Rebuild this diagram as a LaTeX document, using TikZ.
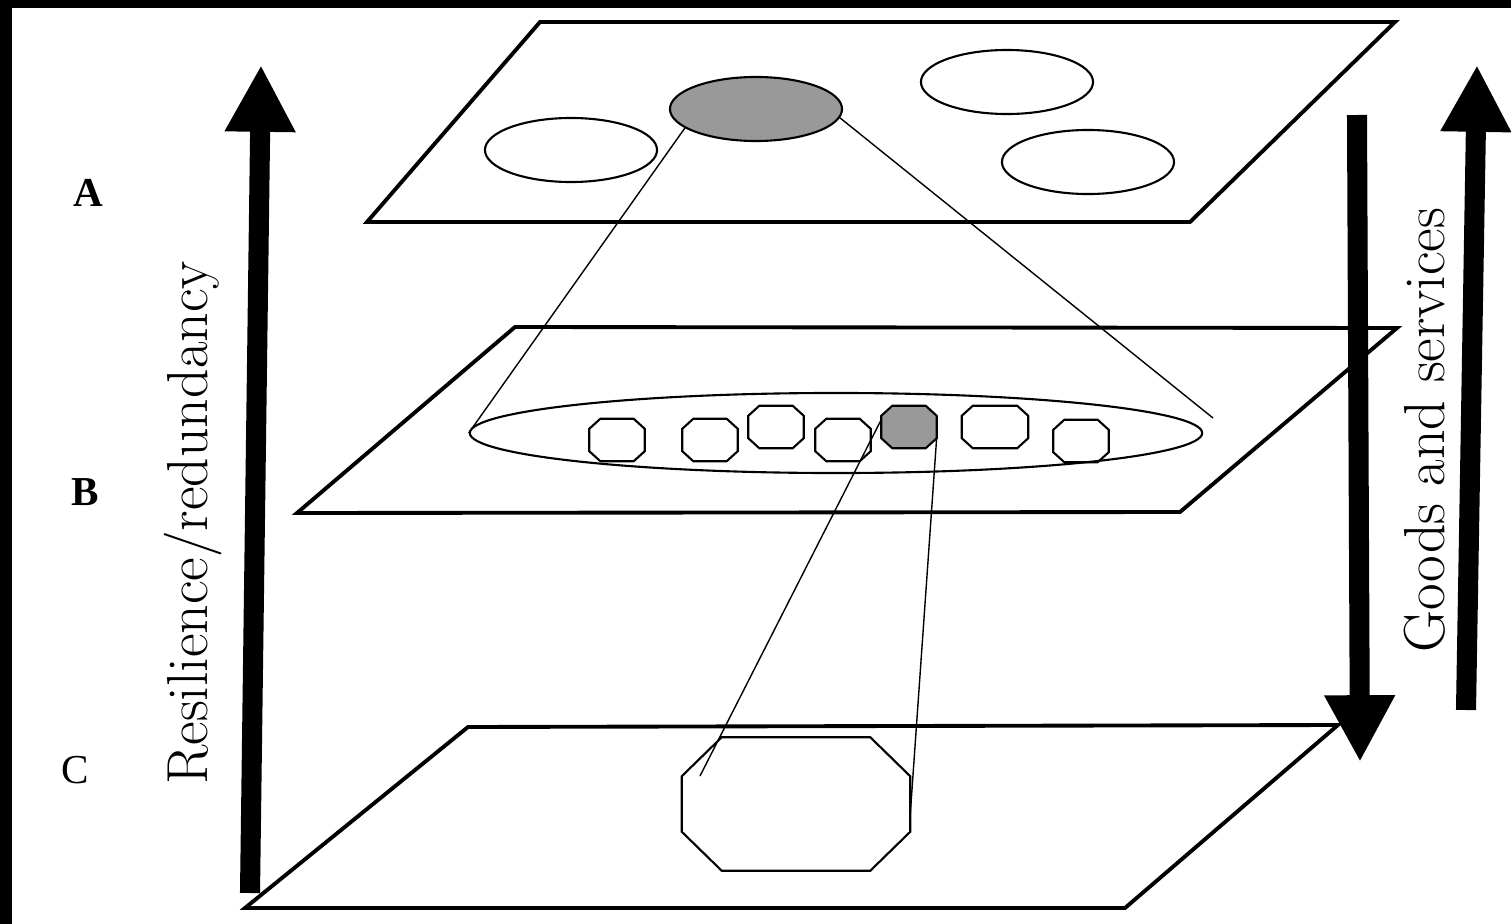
\documentclass[tikz,border=0pt]{standalone}
\usepackage{fontspec}
\setmainfont{Liberation Serif}
\newfontfamily\timesfont{Liberation Serif}
\newcommand{\lmfont}{\fontfamily{lmr}\selectfont}
\usepackage{xcolor}
\usetikzlibrary{shapes.geometric,arrows.meta,positioning,calc}

\definecolor{patchgray}{gray}{0.6}

% octagon drawn over a named box: node, chamfer x, chamfer y, fill
\newcommand{\octcell}[4][none]{%
  \draw[line width=0.6pt, fill=#1] ($(#2.north west)+(#3,0)$) -- ($(#2.north east)+(-#3,0)$)
    -- ($(#2.north east)+(0,#4)$) -- ($(#2.south east)+(0,-#4)$)
    -- ($(#2.south east)+(-#3,0)$) -- ($(#2.south west)+(#3,0)$)
    -- ($(#2.south west)+(0,-#4)$) -- ($(#2.north west)+(0,#4)$) -- cycle;}

\begin{document}
\begin{tikzpicture}[
  x=0.01cm, y=-0.01cm,
  plane/.style={draw, line width=1.1pt, line join=miter},
  patch/.style={ellipse, draw, line width=0.6pt, inner sep=0pt, minimum width=1.72cm, minimum height=0.64cm},
  cell/.style={rectangle, inner sep=0pt, minimum width=0.54cm, minimum height=0.41cm},
  link/.style={line width=0.4pt},
  bigarrow/.style={line width=5.7pt, -{Triangle[length=19pt, width=18.8pt]}},
  layer/.style={font=\timesfont\bfseries\fontsize{11.7}{14}\selectfont},
  sidetext/.style={rotate=90, inner sep=0pt, font=\lmfont\fontsize{16.3}{19}\selectfont}
]

  % Frame
  \useasboundingbox (0,0) rectangle (1511,924);
  \fill[white] (0,0) rectangle (1511,924);
  \fill[black] (0,0) rectangle (1511,8);
  \fill[black] (0,0) rectangle (12,924);

  % Planes
  \draw[plane] (367,222) -- (1190,222) -- (1395,22) -- (540,22) -- cycle;
  \draw[plane] (297,513) -- (1180,512) -- (1397,328) -- (515,327) -- cycle;
  \draw[plane] (245,908) -- (1125,908) -- (1338,725) -- (468,727) -- cycle;

  % Level A
  \node[patch, fill=patchgray] (PA1) at (756,109) {};
  \node[patch] (PA0) at (571,150) {};
  \node[patch] (PA2) at (1007,82) {};
  \node[patch] (PA3) at (1088,162) {};

  % Level B
  \node[ellipse, draw, line width=0.6pt, inner sep=0pt, minimum width=7.32cm, minimum height=0.8cm] (PB) at (836,433) {};
  \node[cell] (CB1) at (617,440) {};
  \node[cell] (CB2) at (710,440) {};
  \node[cell] (CB3) at (776,427) {};
  \node[cell] (CB4) at (843,440) {};
  \node[cell] (CB5) at (909,427) {};
  \node[cell, minimum width=0.65cm] (CB6) at (995,427) {};
  \node[cell] (CB7) at (1081,441) {};
  \foreach \c in {CB1,CB2,CB3,CB4,CB6,CB7}
    \octcell{\c}{11}{10};
  \octcell[patchgray]{CB5}{11}{10}

  % Level C
  \node[cell, minimum width=2.27cm, minimum height=1.32cm] (PC) at (796,804) {};
  \octcell{PC}{40}{39}

  % Zoom lines
  \coordinate (PBtip) at (1213,418);
  \coordinate (PCcut) at (700,776);
  \draw[link] (PA1.195) -- (PB.west);
  \draw[link] (PA1.354) -- (PBtip);
  \draw[link] (CB5.165) -- (PCcut);
  \draw[link] (CB5.340) -- (PC.355);

  % Arrows
  \draw[bigarrow] (250,893) -- (261,65);
  \draw[bigarrow] (1357,115) -- (1360,762);
  \draw[bigarrow] (1466,710) -- (1477,65);

  % Labels
  \node[layer] (LA) at (88,193) {A};
  \node[layer] (LB) at (85,492) {B};
  \node[layer, font=\timesfont\fontsize{11.7}{14}\selectfont] (LC) at (75,770) {C};
  \node[sidetext] (Res) at (193,523) {\resizebox{5.23cm}{!}{Resilience/redundancy}};
  \node[sidetext] (Goods) at (1425,430) {\resizebox{4.44cm}{!}{Goods and services}};

\end{tikzpicture}
\end{document}
